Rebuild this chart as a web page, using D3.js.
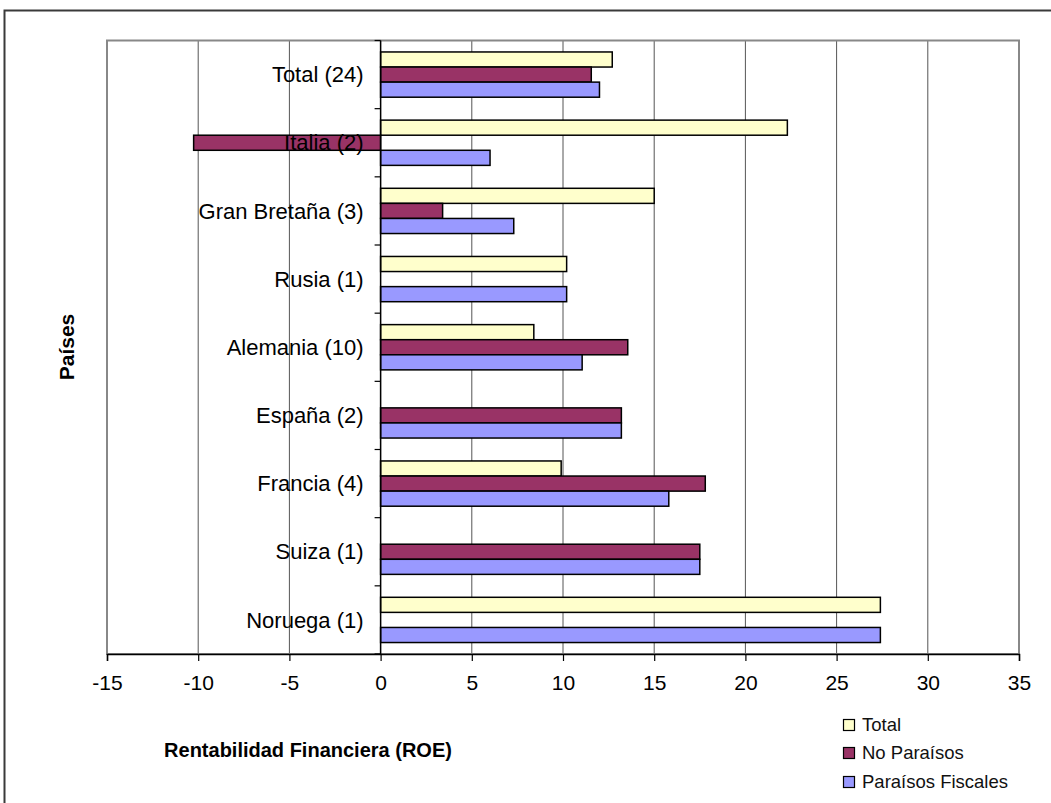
<!DOCTYPE html>
<html>
<head>
<meta charset="utf-8">
<script src="https://cdn.jsdelivr.net/npm/d3@7"></script>
<style>
  body { margin: 0; background: #fff; }
  svg { display: block; font-family: Arial, "Liberation Sans", sans-serif; }
</style>
</head>
<body>
<div id="chart"></div>
<script>
// data
var paises = ['Total (24)', 'Italia (2)', 'Gran Bretaña (3)', 'Rusia (1)', 'Alemania (10)',
              'España (2)', 'Francia (4)', 'Suiza (1)', 'Noruega (1)'];
var series = ['Total', 'No Paraísos', 'Paraísos Fiscales'];
var total = [12.7, 22.3, 15.0, 10.2, 8.4, null, 9.9, null, 27.4];
var noParaisos = [11.55, -10.25, 3.4, null, 13.55, 13.2, 17.8, 17.5, null];
var paraisos = [12.0, 6.0, 7.3, 10.2, 11.05, 13.2, 15.8, 17.5, 27.4];
var xTicks = [-15, -10, -5, 0, 5, 10, 15, 20, 25, 30, 35];
var colores = ['#FFFFCC', '#993366', '#9999FF'];

var W = 1051, H = 803;
// plot area (window.top is reserved, so m* names)
var mLeft = 107, mRight = 1019, mTop = 40.5, mBottom = 654;

var svg = d3.select('#chart').append('svg')
  .attr('width', W).attr('height', H);

// outer chart border (only top and left visible)
svg.append('path')
  .attr('d', 'M4.5,' + H + 'V10.5H' + W)
  .attr('fill', 'none').attr('stroke', '#3a3a3a').attr('stroke-width', 2);

var x = d3.scaleLinear().domain([-15, 35]).range([mLeft, mRight]);
var y = d3.scaleBand().domain(paises).range([mTop, mBottom]).padding(0);
var ySub = d3.scaleBand().domain(series).range([0, y.bandwidth()])
  .paddingInner(0).paddingOuter(0.76);

// gridlines
svg.append('g').selectAll('line').data(xTicks).enter().append('line')
  .attr('x1', function(d) { return x(d); }).attr('x2', function(d) { return x(d); })
  .attr('y1', mTop).attr('y2', mBottom)
  .attr('stroke', '#555').attr('stroke-width', 1);

// plot frame
svg.append('rect')
  .attr('x', mLeft).attr('y', mTop)
  .attr('width', mRight - mLeft).attr('height', mBottom - mTop)
  .attr('fill', 'none').attr('stroke', '#888').attr('stroke-width', 2);

// bars
var valores = [total, noParaisos, paraisos];
var rows = [];
paises.forEach(function(p, i) {
  series.forEach(function(s, j) {
    if (valores[j][i] != null) rows.push({ pais: p, serie: s, v: valores[j][i], c: colores[j] });
  });
});

svg.append('g').selectAll('rect').data(rows).enter().append('rect')
  .attr('x', function(d) { return x(Math.min(0, d.v)); })
  .attr('y', function(d) { return y(d.pais) + ySub(d.serie); })
  .attr('width', function(d) { return Math.abs(x(d.v) - x(0)); })
  .attr('height', ySub.bandwidth())
  .attr('fill', function(d) { return d.c; })
  .attr('stroke', '#000').attr('stroke-width', 1.5);

// category axis at zero
var yAxis = svg.append('g');
yAxis.append('line')
  .attr('x1', x(0)).attr('x2', x(0)).attr('y1', mTop).attr('y2', mBottom)
  .attr('stroke', '#000').attr('stroke-width', 1.5);
yAxis.selectAll('line.tk').data(d3.range(paises.length + 1)).enter().append('line')
  .attr('class', 'tk')
  .attr('x1', x(0) - 6).attr('x2', x(0))
  .attr('y1', function(i) { return mTop + i * y.step(); })
  .attr('y2', function(i) { return mTop + i * y.step(); })
  .attr('stroke', '#000').attr('stroke-width', 1.2);
yAxis.selectAll('text').data(paises).enter().append('text')
  .attr('x', x(0) - 17)
  .attr('y', function(d) { return y(d) + y.bandwidth() / 2; })
  .attr('dy', '0.35em')
  .attr('text-anchor', 'end')
  .attr('font-size', 22)
  .attr('fill', '#000')
  .text(function(d) { return d; });

// value axis at bottom
var xAxis = svg.append('g').attr('transform', 'translate(0,' + mBottom + ')')
  .call(d3.axisBottom(x).tickValues(xTicks).tickSize(7).tickPadding(14).tickFormat(d3.format('d')));
xAxis.select('.domain').attr('stroke', '#000').attr('stroke-width', 1.5);
xAxis.selectAll('.tick line').attr('stroke', '#000').attr('stroke-width', 1.2);
xAxis.selectAll('.tick text')
  .attr('font-size', 21).attr('fill', '#000')
  .attr('font-family', 'Arial, "Liberation Sans", sans-serif')
  .text(function(d) { return String(d); });

// axis titles
svg.append('text')
  .attr('x', 308).attr('y', 757)
  .attr('text-anchor', 'middle')
  .attr('font-size', 20).attr('font-weight', 'bold')
  .text('Rentabilidad Financiera (ROE)');

svg.append('text')
  .attr('transform', 'translate(74,347) rotate(-90)')
  .attr('text-anchor', 'middle')
  .attr('font-size', 21).attr('font-weight', 'bold')
  .text('Países');

// legend
var legend = svg.append('g').attr('transform', 'translate(843,0)');
var ly = [725, 753, 782];
series.forEach(function(s, i) {
  legend.append('rect')
    .attr('x', 0.5).attr('y', ly[i] - 5.5)
    .attr('width', 11).attr('height', 11)
    .attr('fill', colores[i]).attr('stroke', '#000').attr('stroke-width', 1.2);
  legend.append('text')
    .attr('x', 19).attr('y', ly[i])
    .attr('dy', '0.35em')
    .attr('font-size', 18.5).attr('fill', '#111')
    .text(s);
});
</script>
</body>
</html>
